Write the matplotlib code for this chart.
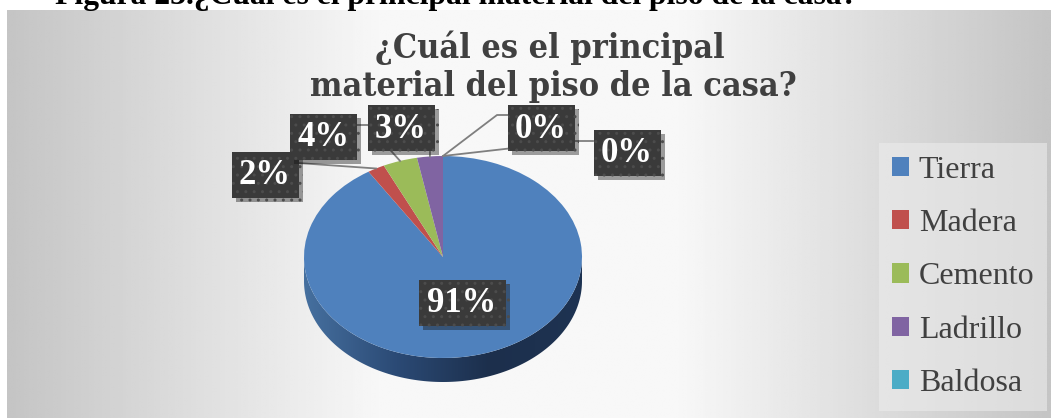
import numpy as np
import matplotlib.pyplot as plt
from matplotlib.patches import Patch, Polygon, Rectangle
from matplotlib.colors import LinearSegmentedColormap
import matplotlib.patheffects as pe

# datos
categorias = ['Tierra', 'Madera', 'Cemento', 'Ladrillo', 'Baldosa', 'Otro']
porcentajes = [91, 2, 4, 3, 0, 0]
colores = ['#4F81BD', '#C0504D', '#9BBB59', '#8064A2', '#4BACC6', '#F79646']

W, H = 1051, 418
fig = plt.figure(figsize=(W / 100, H / 100), dpi=100)

# fondo con degradado gris
bg = fig.add_axes([7 / W, 0, (W - 7) / W, (H - 10) / H])
X, Y = np.meshgrid(np.linspace(7, W, 400), np.linspace(10, H, 100))
t = np.clip((np.abs(X - 529) - 150) / 372, 0, 1)
bg.imshow(0.97 - 0.20 * t, cmap='gray', vmin=0, vmax=1, aspect='auto',
          extent=[0, 1, 0, 1], interpolation='bilinear')
bg.axis('off')

# pastel (elipse con grosor)
cx, cy, rx, ry, grosor = 443, 257, 139, 101, 24
d = grosor / ry
pa = fig.add_axes([(cx - rx) / W, (H - (cy + ry + grosor)) / H, 2 * rx / W, (2 * ry + grosor) / H])
wedges, _ = pa.pie(porcentajes, colors=colores, startangle=90, counterclock=False,
                   radius=1, wedgeprops=dict(linewidth=0))

th = np.linspace(np.pi, 2 * np.pi, 200)
borde = np.vstack([np.column_stack([np.cos(th), np.sin(th)]),
                   np.column_stack([np.cos(th[::-1]), np.sin(th[::-1]) - d])])
lado = Polygon(borde, closed=True, fc='none', ec='none')
pa.add_patch(lado)
cmap_lado = LinearSegmentedColormap.from_list('lado', ['#46709f', '#2b4a75', '#1c2f4c', '#1e3352'])
im = pa.imshow(np.linspace(0, 1, 256).reshape(1, -1), cmap=cmap_lado,
               extent=[-1, 1, -1 - d, 0], aspect='auto', zorder=0.5)
im.set_clip_path(lado)
pa.set_aspect('auto')
pa.set_xlim(-1, 1)
pa.set_ylim(-1 - d, 1)
pa.axis('off')

# capa superior en pixeles
ov = fig.add_axes([0, 0, 1, 1])
ov.set_xlim(0, W)
ov.set_ylim(H, 0)
ov.axis('off')
ov.set_zorder(3)

fuente = 'Liberation Serif'
ov.text(55, 4, 'Figura 23.¿Cuál es el principal material del piso de la casa?',
        family=fuente, weight='bold', fontsize=22.8, color='black', va='baseline')
ov.text(550, 58, '¿Cuál es el principal', family='DejaVu Serif', fontstretch='condensed',
        weight='bold', fontsize=24.5, color='#404040', ha='center', va='baseline')
ov.text(553, 96, 'material del piso de la casa?', family='DejaVu Serif', fontstretch='condensed',
        weight='bold', fontsize=24.5, color='#404040', ha='center', va='baseline')

# etiquetas y lineas guia
pos_etiquetas = [(462, 303), (265, 175), (323, 137), (401, 128), (541, 128), (627, 153)]
guias = [None, [(298, 163)], [(357, 125), (368, 125)], [(430, 152)],
         [(508, 115), (497, 115)], [(593, 141), (575, 141)]]

to_ov = ov.transData.inverted()
for w, v, (x, y), g in zip(wedges, porcentajes, pos_etiquetas, guias):
    if g is not None:
        ang = np.deg2rad((w.theta1 + w.theta2) / 2)
        px, py = to_ov.transform(pa.transData.transform((np.cos(ang), np.sin(ang))))
        xs = [p[0] for p in g] + [px]
        ys = [p[1] for p in g] + [py]
        ov.plot(xs, ys, color='#7f7f7f', lw=1.3, zorder=1)
    s = f'{v}%'
    bw, bh = 27 + 20 * len(s), 46
    caja = Rectangle((x - bw / 2, y - bh / 2), bw, bh, fc='#3a3a3a', ec='#4c4c4c', lw=0,
                     hatch='..', zorder=2)
    caja.set_path_effects([pe.withSimplePatchShadow(offset=(3, -3), alpha=0.4)])
    ov.add_patch(caja)
    ov.text(x, y + 1, s, ha='center', va='center', color='white', fontsize=25,
            weight='bold', family=fuente, zorder=3)

# leyenda (solo las cinco primeras caben)
handles = [Patch(facecolor=c, edgecolor='none') for c in colores[:5]]
fig.legend(handles, categorias[:5], loc='upper left', bbox_to_anchor=(879 / W, 1 - 143 / H),
           prop=dict(family=fuente, size=23), labelcolor='#404040', frameon=True,
           facecolor='#ececec', framealpha=0.6, edgecolor='none', fancybox=False,
           handlelength=0.55, handleheight=0.55, handletextpad=0.3, labelspacing=0.76,
           borderpad=0.4, borderaxespad=0)

fig.savefig('out.png', dpi=100)
